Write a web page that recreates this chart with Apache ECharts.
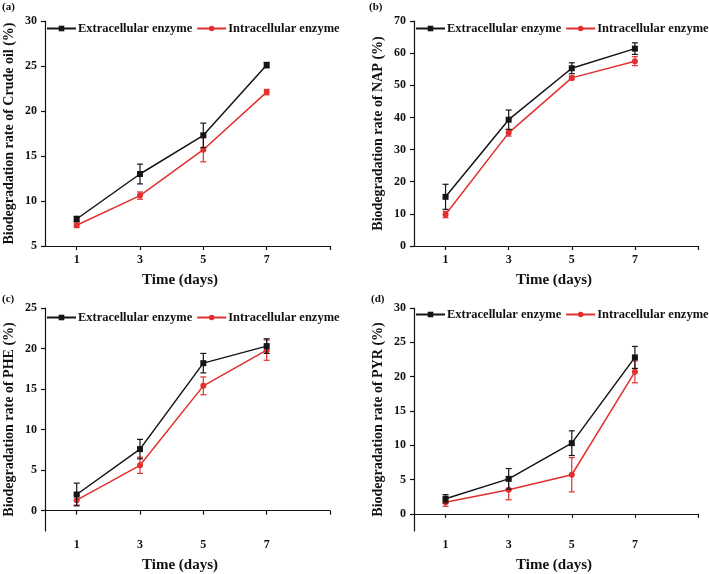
<!DOCTYPE html>
<html>
<head>
<meta charset="utf-8">
<script src="https://cdn.jsdelivr.net/npm/echarts@6/dist/echarts.min.js"></script>
<style>
  html, body { margin: 0; padding: 0; background: #fff; }
  #chart { width: 709px; height: 574px; }
</style>
</head>
<body>
<div id="chart"></div>
<script>
// days of sampling
const days = [1, 3, 5, 7]
const seriesNames = ['Extracellular enzyme', 'Intracellular enzyme']
const panelLabels = ['(a)', '(b)', '(c)', '(d)']
const yTitles = [
  'Biodegradation rate of Crude oil (%)',
  'Biodegradation rate of NAP (%)',
  'Biodegradation rate of PHE (%)',
  'Biodegradation rate of PYR (%)'
]

// (a) crude oil
const crudeExt = [8.0, 13.0, 17.3, 25.1]
const crudeExtErr = [0.3, 1.1, 1.35, 0.3]
const crudeInt = [7.3, 10.6, 15.7, 22.1]
const crudeIntErr = [0.25, 0.4, 1.35, 0.3]
// (b) NAP
const napExt = [15.3, 39.3, 55.3, 61.4]
const napExtErr = [3.9, 3.0, 1.7, 1.8]
const napInt = [9.8, 35.2, 52.3, 57.5]
const napIntErr = [1.0, 1.0, 0.6, 1.4]
// (c) PHE
const pheExt = [2.0, 7.6, 18.2, 20.3]
const pheExtErr = [1.4, 1.2, 1.2, 0.9]
const pheInt = [1.3, 5.6, 15.4, 19.8]
const pheIntErr = [0.6, 1.0, 1.1, 1.25]
// (d) PYR
const pyrExt = [2.2, 5.1, 10.3, 22.8]
const pyrExtErr = [0.6, 1.5, 1.8, 1.6]
const pyrInt = [1.7, 3.5, 5.7, 20.7]
const pyrIntErr = [0.6, 1.45, 2.5, 1.6]

const yMin = [5, 0, -2.5, -2.5]
const yMax = [30, 70, 25, 30]
const yTicks = [
  [5, 10, 15, 20, 25, 30],
  [0, 10, 20, 30, 40, 50, 60, 70],
  [0, 5, 10, 15, 20, 25],
  [0, 5, 10, 15, 20, 25, 30]
]

const panels = [
  [crudeExt, crudeExtErr, crudeInt, crudeIntErr],
  [napExt, napExtErr, napInt, napIntErr],
  [pheExt, pheExtErr, pheInt, pheIntErr],
  [pyrExt, pyrExtErr, pyrInt, pyrIntErr]
]

const black = '#151515'
const red = '#e0302f'
const font = '"Liberation Serif", "DejaVu Serif", serif'

// plot boxes in pixels
const boxes = [
  { left: 45, top: 21, width: 285, height: 225 },
  { left: 414, top: 21, width: 284, height: 225 },
  { left: 45, top: 308, width: 285, height: 224 },
  { left: 414, top: 308, width: 284, height: 224 }
]
const legendPos = [
  { left: 46, top: 22 },
  { left: 415, top: 22 },
  { left: 46, top: 311 },
  { left: 415, top: 308 }
]
const labelPos = [[2, 2], [369, 2], [2, 294], [371, 294]]
const xNamePad = [[0, 15, 0, 0], [0, 4, 0, 0], [0, 15, 0, 0], [0, 4, 0, 0]]

const grid = []
const xAxis = []
const yAxis = []
const series = []
const legend = []
const graphic = []

function errBar (params, api) {
  const x = api.value(0)
  const y = api.value(1)
  const e = api.value(2)
  const hi = api.coord([x, y + e])
  const lo = api.coord([x, y - e])
  const cap = 3
  const style = { stroke: api.visual('color'), lineWidth: 1.2 }
  return {
    type: 'group',
    children: [
      { type: 'line', shape: { x1: hi[0], y1: hi[1], x2: lo[0], y2: lo[1] }, style },
      { type: 'line', shape: { x1: hi[0] - cap, y1: hi[1], x2: hi[0] + cap, y2: hi[1] }, style },
      { type: 'line', shape: { x1: lo[0] - cap, y1: lo[1], x2: lo[0] + cap, y2: lo[1] }, style }
    ]
  }
}

panels.forEach((p, i) => {
  grid.push(boxes[i])
  xAxis.push({
    gridIndex: i,
    type: 'value',
    min: 0,
    max: 9,
    name: 'Time (days)',
    nameLocation: 'middle',
    nameGap: 27,
    nameTextStyle: { fontFamily: font, fontWeight: 'bold', fontSize: 15, color: '#111', padding: xNamePad[i] },
    axisLine: { lineStyle: { color: '#111', width: 1.2 } },
    axisTick: { length: 4, lineStyle: { color: '#111', width: 1.2 }, customValues: [1, 3, 5, 7, 9] },
    axisLabel: { margin: 8, fontFamily: font, fontWeight: 'bold', fontSize: 12, color: '#111', customValues: days },
    splitLine: { show: false }
  })
  yAxis.push({
    gridIndex: i,
    type: 'value',
    min: yMin[i],
    max: yMax[i],
    name: yTitles[i],
    nameLocation: 'middle',
    nameGap: 29,
    nameTextStyle: { fontFamily: font, fontWeight: 'bold', fontSize: 14, color: '#111' },
    axisLine: { show: true, lineStyle: { color: '#111', width: 1.2 } },
    axisTick: { show: true, length: 4, lineStyle: { color: '#111', width: 1.2 }, customValues: yTicks[i] },
    axisLabel: { margin: 8, fontFamily: font, fontWeight: 'bold', fontSize: 12, color: '#111', customValues: yTicks[i] },
    splitLine: { show: false }
  })
  const ext = days.map((d, k) => [d, p[0][k], p[1][k]])
  const int = days.map((d, k) => [d, p[2][k], p[3][k]])
  series.push({
    name: seriesNames[0], type: 'line', xAxisIndex: i, yAxisIndex: i,
    data: ext.map(v => [v[0], v[1]]),
    symbol: 'rect', symbolSize: 6, color: black,
    lineStyle: { width: 1.5, color: black }, z: 3
  })
  series.push({
    name: seriesNames[1], type: 'line', xAxisIndex: i, yAxisIndex: i,
    data: int.map(v => [v[0], v[1]]),
    symbol: 'circle', symbolSize: 6, color: red,
    lineStyle: { width: 1.5, color: red }, z: 2
  })
  series.push({
    name: seriesNames[0], type: 'custom', xAxisIndex: i, yAxisIndex: i,
    data: ext, renderItem: errBar, color: black, z: 3
  })
  series.push({
    name: seriesNames[1], type: 'custom', xAxisIndex: i, yAxisIndex: i,
    data: int, renderItem: errBar, color: red, z: 2
  })
  legend.push({
    left: legendPos[i].left,
    top: legendPos[i].top,
    width: 400,
    padding: 0,
    itemGap: 4,
    itemWidth: 29,
    itemHeight: 7,
    data: seriesNames,
    textStyle: { fontFamily: font, fontWeight: 'bold', fontSize: 12.5, color: '#111', padding: [0, 0, 0, -3] }
  })
  graphic.push({
    type: 'text', left: labelPos[i][0], top: labelPos[i][1],
    style: { text: panelLabels[i], font: 'bold 11px ' + font, fill: '#111' }
  })
})

const chart = echarts.init(document.getElementById('chart'))
chart.setOption({
  animation: false,
  backgroundColor: '#fff',
  grid,
  xAxis,
  yAxis,
  legend,
  graphic,
  series
})
window.addEventListener('resize', () => chart.resize())
</script>
</body>
</html>
